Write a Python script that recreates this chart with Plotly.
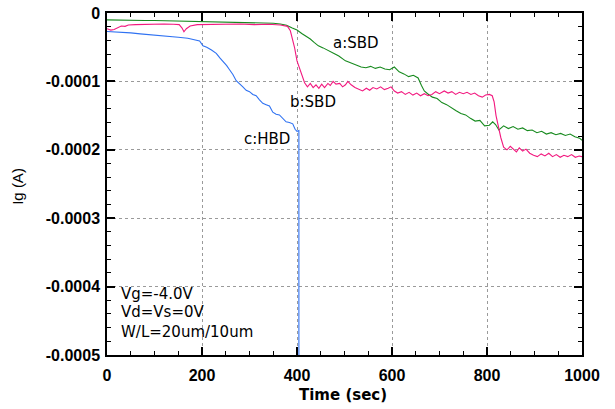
import plotly.graph_objects as go

# ---- data (current in units of 1e-5 A) ----
a_x = [0, 20, 40, 60, 80, 100, 130, 160, 200, 240, 280, 320, 350, 365, 378, 390, 400, 410, 420, 428, 436, 445, 455, 465, 472, 480, 488, 495, 502, 510, 518, 525, 535, 545, 555, 565, 575, 585, 595, 605, 615, 625, 635, 645, 655, 662, 668, 675, 685, 695, 705, 715, 725, 735, 745, 755, 765, 775, 785, 795, 805, 812, 818, 825, 835, 845, 855, 865, 875, 885, 895, 905, 915, 925, 935, 945, 955, 965, 975, 985, 995, 1000]
a_y = [-1.0, -1.05, -1.0, -1.05, -1.1, -1.1, -1.15, -1.15, -1.25, -1.3, -1.35, -1.4, -1.5, -1.6, -1.8, -2.2, -2.5, -3.0, -3.4, -3.8, -4.3, -4.8, -5.1, -5.5, -5.8, -6.0, -6.3, -6.7, -7.0, -7.2, -7.4, -7.6, -7.9, -8.0, -7.8, -8.1, -7.9, -8.2, -8.3, -7.9, -8.6, -8.9, -9.3, -9.1, -9.5, -10.6, -11.4, -11.8, -12.3, -12.5, -13.1, -13.4, -13.9, -14.3, -14.7, -14.9, -15.4, -15.8, -15.7, -16.5, -16.4, -15.9, -16.3, -17.1, -16.5, -16.9, -16.6, -17.0, -16.8, -17.2, -17.1, -17.5, -17.3, -17.7, -17.5, -17.8, -17.6, -17.9, -17.7, -18.1, -18.3, -18.6]

b_x = [0, 8, 15, 22, 30, 38, 45, 60, 80, 100, 120, 140, 152, 158, 162, 167, 175, 190, 220, 250, 280, 310, 340, 365, 380, 386, 390, 395, 400, 405, 410, 416, 422, 428, 434, 440, 446, 452, 458, 465, 470, 476, 482, 490, 496, 502, 507, 514, 522, 530, 538, 546, 553, 560, 568, 576, 584, 592, 598, 605, 612, 620, 628, 636, 644, 652, 660, 668, 676, 684, 692, 700, 710, 718, 726, 734, 742, 750, 758, 766, 774, 782, 790, 797, 805, 811, 815, 819, 824, 829, 835, 842, 849, 856, 862, 868, 875, 882, 890, 898, 906, 914, 922, 930, 938, 946, 954, 962, 970, 978, 986, 994, 1000]
b_y = [-2.3, -2.5, -2.4, -2.2, -1.9, -1.95, -1.75, -1.7, -1.65, -1.65, -1.6, -1.65, -1.7, -2.2, -2.75, -2.3, -1.9, -1.7, -1.65, -1.65, -1.6, -1.7, -1.65, -1.75, -1.95, -2.6, -3.7, -5.1, -7.0, -8.0, -8.9, -10.2, -10.8, -10.3, -10.9, -10.5, -11.0, -10.4, -10.9, -10.3, -10.6, -10.0, -10.4, -10.3, -10.8, -10.5, -10.0, -10.5, -10.9, -11.1, -11.4, -11.0, -11.3, -10.9, -11.1, -10.8, -11.2, -11.0, -10.8, -11.4, -11.7, -11.5, -11.9, -11.6, -12.0, -11.7, -12.1, -11.8, -12.1, -11.9, -11.5, -11.8, -11.4, -11.7, -11.5, -11.9, -11.6, -11.8, -11.6, -11.9, -11.7, -12.1, -12.3, -12.0, -11.9, -12.1, -13.0, -15.0, -16.6, -18.2, -19.6, -20.0, -19.5, -19.9, -20.3, -19.7, -20.2, -19.9, -20.5, -20.8, -21.0, -20.6, -20.9, -20.5, -21.0, -20.7, -21.1, -20.8, -21.0, -20.7, -21.1, -20.9, -21.0]

c_x = [0, 15, 30, 50, 70, 90, 110, 130, 150, 170, 185, 195, 202, 210, 220, 230, 238, 245, 252, 258, 265, 272, 279, 286, 293, 300, 307, 314, 321, 328, 335, 342, 349, 356, 363, 370, 377, 384, 391, 396, 400, 404, 404]
c_y = [-2.7, -2.75, -2.8, -2.9, -3.05, -3.15, -3.3, -3.45, -3.55, -3.7, -3.9, -4.1, -4.8, -5.0, -5.4, -5.9, -6.6, -7.1, -7.7, -8.3, -9.0, -9.9, -10.3, -10.8, -11.3, -11.5, -11.9, -12.1, -12.7, -13.2, -13.4, -13.6, -14.5, -14.8, -14.9, -15.4, -15.9, -16.0, -16.2, -17.0, -17.3, -17.2, -50.0]

x_ticks = [0, 200, 400, 600, 800, 1000]
y_ticks = [0, -0.0001, -0.0002, -0.0003, -0.0004, -0.0005]
y_ticktext = ["0", "-0.0001", "-0.0002", "-0.0003", "-0.0004", "-0.0005"]

series = [
    ("a:SBD", a_x, a_y, "#178a1e"),
    ("b:SBD", b_x, b_y, "#f2197f"),
    ("c:HBD", c_x, c_y, "#2f72f2"),
]

SCALE = 1e-5
fig = go.Figure()
for name, xs, ys, col in series:
    fig.add_trace(go.Scatter(x=xs, y=[v * SCALE for v in ys], mode="lines",
                             name=name, line=dict(color=col, width=1.1),
                             showlegend=False))

FONT = "Liberation Sans, Arial, sans-serif"
TFONT = "DejaVu Sans, sans-serif"
labels = [
    ("a:SBD", 471, -0.0000439),
    ("b:SBD", 380, -0.0001301),
    ("c:HBD", 285, -0.0001835),
]
for txt, x, y in labels:
    fig.add_annotation(x=x, y=y, text=txt, showarrow=False, xanchor="left",
                       yanchor="middle", font=dict(family=TFONT, size=15, color="black"))

cond = ["Vg=-4.0V", "Vd=Vs=0V", "W/L=20um/10um"]
cond_y = [-0.0004115, -0.000437, -0.000467]
for t, yv in zip(cond, cond_y):
    fig.add_annotation(x=25, y=yv, text=t, showarrow=False,
                       xanchor="left", yanchor="middle",
                       font=dict(family=TFONT, size=15, color="black"))

axis_common = dict(
    showline=True, linecolor="black", linewidth=1.5, mirror="allticks",
    ticks="inside", ticklen=8, tickcolor="black", tickwidth=1.5,
    showgrid=True, gridcolor="#9a9a9a", griddash="3px,3px", gridwidth=1,
    zeroline=False, automargin=False, layer="above traces",
    ticklabeloverflow="allow",
    tickfont=dict(family=FONT, size=16, color="black", weight="bold"),
)

fig.update_xaxes(range=[0, 1000], tickvals=x_ticks, ticklabelstandoff=5,
                 minor=dict(tick0=0, dtick=50, ticks="inside", ticklen=4, tickcolor="black",
                            tickwidth=1.2, showgrid=False),
                 **axis_common)
fig.update_yaxes(range=[-0.0005, 0], tickvals=y_ticks, ticktext=y_ticktext, ticklabelstandoff=2,
                 minor=dict(tick0=0, dtick=0.00002, ticks="inside", ticklen=4, tickcolor="black",
                            tickwidth=1.2, showgrid=False),
                 **axis_common)

# axis titles
fig.add_annotation(xref="paper", yref="paper", x=0.497, y=-0.117, text="<b>Time (sec)</b>",
                   showarrow=False, xanchor="center", yanchor="middle",
                   font=dict(family=TFONT, size=15, color="black"))
fig.add_annotation(xref="paper", yref="paper", x=-0.19, y=0.494, text="Ig (A)", textangle=-90,
                   showarrow=False, xanchor="center", yanchor="middle",
                   font=dict(family=FONT, size=15, color="black"))

fig.update_layout(width=615, height=409, margin=dict(l=107, r=33, t=13, b=54),
                  plot_bgcolor="white", paper_bgcolor="white")

# remove the browser's default 8px body margin so the figure sits at the page corner
fig.write_html("out.html", config={"displayModeBar": False},
               post_script="document.body.style.margin='0';")
